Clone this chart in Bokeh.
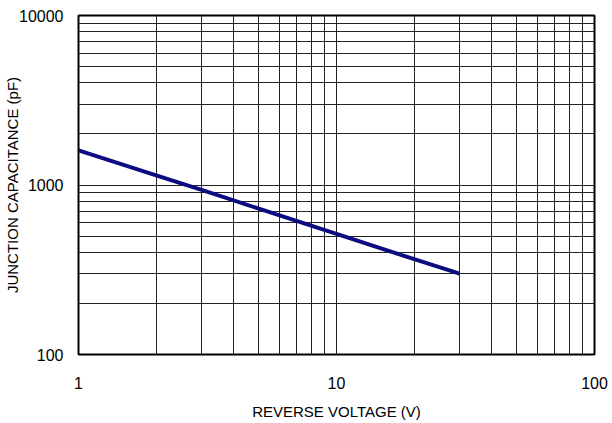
from bokeh.plotting import figure
from bokeh.models import FixedTicker, Range1d
from bokeh.embed import file_html
from bokeh.resources import INLINE

# Data
voltage = [1, 2, 3, 5, 10, 20, 30]
capacitance = [1600, 1140, 935, 725, 515, 365, 300]

x_major = [1, 10, 100]
x_minor = [2, 3, 4, 5, 6, 7, 8, 9, 20, 30, 40, 50, 60, 70, 80, 90]
y_major = [100, 1000, 10000]
y_minor = [200, 300, 400, 500, 600, 700, 800, 900,
           2000, 3000, 4000, 5000, 6000, 7000, 8000, 9000]

FONT = "Liberation Sans"

p = figure(frame_width=516, frame_height=339, x_axis_type="log", y_axis_type="log",
           x_range=Range1d(1, 100), y_range=Range1d(100, 10000),
           output_backend="svg", toolbar_location=None,
           min_border_left=78, min_border_right=18,
           min_border_top=15, min_border_bottom=62)

p.line(voltage, capacitance, line_color="#0c0c80", line_width=4)

p.xaxis.ticker = FixedTicker(ticks=x_major, minor_ticks=x_minor)
p.yaxis.ticker = FixedTicker(ticks=y_major, minor_ticks=y_minor)
p.xaxis.major_label_overrides = {1: "1", 10: "10", 100: "100"}
p.yaxis.major_label_overrides = {100: "100", 1000: "1000", 10000: "10000"}

for ax in (p.xaxis, p.yaxis):
    ax.axis_line_color = None
    ax.major_tick_line_color = None
    ax.minor_tick_line_color = None
    ax.major_tick_out = 0
    ax.major_tick_in = 0
    ax.minor_tick_out = 0
    ax.minor_tick_in = 0
    ax.major_label_text_font = FONT
    ax.major_label_text_font_size = "16px"
    ax.major_label_text_color = "black"
    ax.axis_label_text_font = FONT
    ax.axis_label_text_font_size = "15px"
    ax.axis_label_text_font_style = "normal"
    ax.axis_label_text_color = "black"

p.xaxis.axis_label = "REVERSE VOLTAGE (V)"
p.yaxis.axis_label = "JUNCTION CAPACITANCE (pF)"
p.xaxis.major_label_standoff = 22
p.xaxis.axis_label_standoff = 11
p.yaxis.major_label_standoff = 15
p.yaxis.axis_label_standoff = -5

for g in (p.xgrid, p.ygrid):
    g.grid_line_color = "#222222"
    g.grid_line_width = 1
    g.minor_grid_line_color = "#222222"
    g.minor_grid_line_width = 1

p.outline_line_color = "black"
p.outline_line_width = 2
p.background_fill_color = "white"
p.border_fill_color = "white"

open("out.html", "w").write(file_html(p, INLINE))
